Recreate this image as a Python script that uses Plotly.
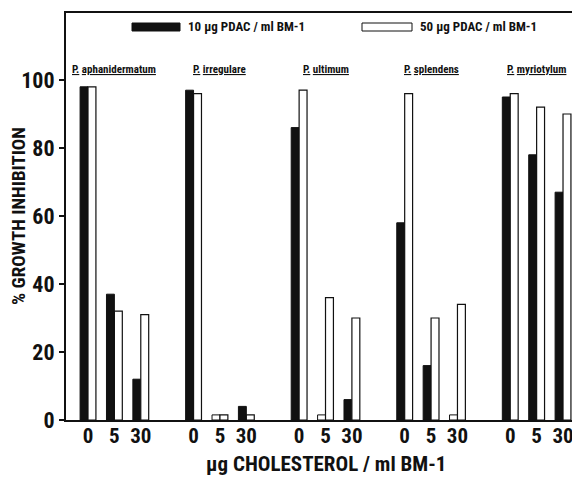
import plotly.graph_objects as go

species = ["P. aphanidermatum", "P. irregulare", "P. ultimum", "P. splendens", "P. myriotylum"]
cholesterol = ["0", "5", "30"]
pdac10 = [98, 37, 12, 97, 1.5, 4, 86, 1.5, 6, 58, 16, 1.5, 95, 78, 67]
pdac50 = [98, 32, 31, 96, 1.5, 1.5, 97, 36, 30, 96, 30, 34, 96, 92, 90]
y_ticks = [0, 20, 40, 60, 80, 100]
series_names = ["10 µg PDAC / ml BM-1", "50 µg PDAC / ml BM-1"]
x_title = "µg CHOLESTEROL / ml BM-1"
y_title = "% GROWTH INHIBITION"

FONT = "'Roboto Condensed', 'Liberation Sans Narrow', Roboto, sans-serif"

# slot positions: 3 conditions per species, one empty slot between species
xs = [g * 4 + i for g in range(len(species)) for i in range(len(cholesterol))]
tick_text = [cholesterol[i] for g in range(len(species)) for i in range(len(cholesterol))]

def fills(vals, base):
    return ["white" if v < 2 else base for v in vals]

fig = go.Figure()
fig.add_trace(go.Bar(x=xs, y=pdac10, name=series_names[0],
                     marker=dict(color=fills(pdac10, "#111111"), line=dict(color="#111111", width=1))))
fig.add_trace(go.Bar(x=xs, y=pdac50, name=series_names[1],
                     marker=dict(color="white", line=dict(color="#111111", width=1.2))))

# page geometry (the page body has an 8px margin)
OFF = 8
PAGE_W, PAGE_H = 580, 478
AX_L, AX_T, AX_B = 66, 13, 420          # plot area edges in page pixels
W, H = PAGE_W - OFF, PAGE_H - OFF
pw, ph = PAGE_W - AX_L, AX_B - AX_T
slot_px = 26.39
x0 = -22 / slot_px
ymax = ph / 3.4

fig.update_layout(
    width=W, height=H,
    margin=dict(l=AX_L - OFF, r=0, t=AX_T - OFF, b=PAGE_H - AX_B, pad=0, autoexpand=False),
    paper_bgcolor="white", plot_bgcolor="white",
    barmode="group", bargap=0.4, bargroupgap=0,
    showlegend=False,
    font=dict(family=FONT, color="#111111"),
)
fig.update_xaxes(range=[x0, x0 + pw / slot_px], tickmode="array", tickvals=xs, ticktext=tick_text,
                 showgrid=False, zeroline=False, showline=True, linecolor="#111111", linewidth=2,
                 mirror=True, ticks="", automargin=False, ticklabelstandoff=-4,
                 tickfont=dict(family=FONT, size=21, weight="bold"))
fig.update_yaxes(range=[0, ymax], tickmode="array", tickvals=y_ticks,
                 showgrid=False, zeroline=False, showline=True, linecolor="#111111", linewidth=2,
                 ticks="outside", ticklen=5, tickwidth=2, tickcolor="#111111", automargin=False,
                 tickfont=dict(family=FONT, size=22, weight="bold"))

def px2x(p):
    return (p - AX_L) / pw
def py2y(p):
    return (AX_B - p) / ph

# axis titles
fig.add_annotation(x=px2x(19), y=py2y(216), xref="paper", yref="paper", showarrow=False,
                   text=y_title, textangle=-90, xanchor="center", yanchor="middle",
                   font=dict(family=FONT, size=19, weight="bold"))
fig.add_annotation(x=px2x(326), y=py2y(464), xref="paper", yref="paper", showarrow=False,
                   text=x_title, xanchor="center", yanchor="middle",
                   font=dict(family=FONT, size=21, weight="bold"))

# species labels
for g, sp in enumerate(species):
    genus, rest = sp.split(" ", 1)
    fig.add_annotation(x=g * 4 + 1, y=103, xref="x", yref="y", showarrow=False,
                       text=f"<u>{genus}</u> <u>{rest}</u>",
                       font=dict(family=FONT, size=11, weight="bold"), xanchor="center", yanchor="middle")

# legend drawn manually
legend_items = [(132, 180, "#111111", series_names[0]), (362, 412, "white", series_names[1])]
for x_a, x_b, col, name in legend_items:
    fig.add_shape(type="rect", xref="paper", yref="paper",
                  x0=px2x(x_a), x1=px2x(x_b), y0=py2y(31), y1=py2y(23),
                  fillcolor=col, line=dict(color="#111111", width=1))
    fig.add_annotation(x=px2x(x_b + 6), y=py2y(27), xref="paper", yref="paper", showarrow=False,
                       text=name, xanchor="left", yanchor="middle",
                       font=dict(family=FONT, size=13, weight="bold"))

fig.write_html("out.html")
